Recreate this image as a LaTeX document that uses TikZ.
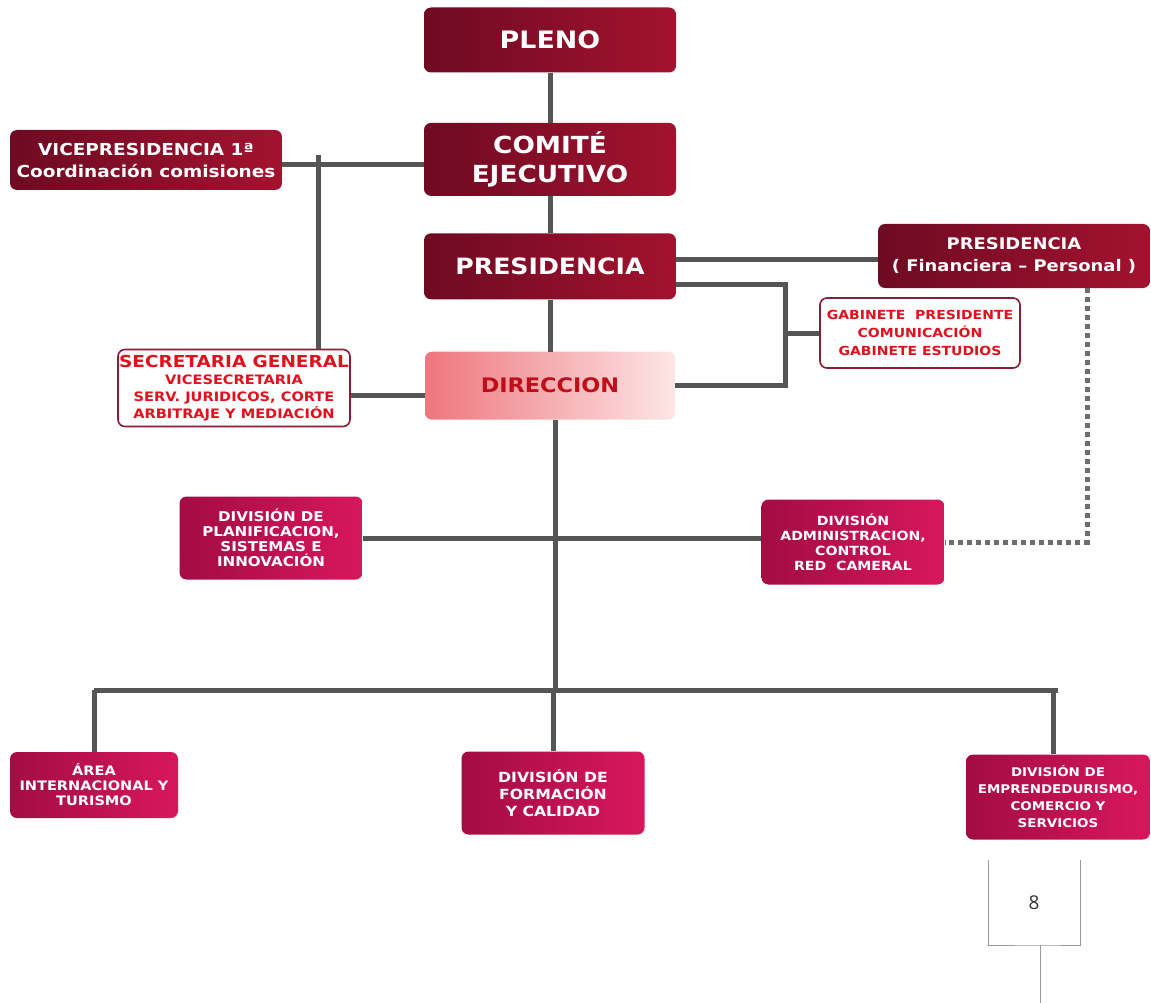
\documentclass[tikz,border=0pt]{standalone}
\usepackage{fontspec}
\setmainfont{DejaVu Sans}[FakeStretch=1.12]
\newfontfamily\pagefont{Open Sans}
\usetikzlibrary{positioning,calc}
\definecolor{dkA}{HTML}{6E0A22}
\definecolor{dkB}{HTML}{A3122F}
\definecolor{mgA}{HTML}{A30C43}
\definecolor{mgB}{HTML}{D8175C}
\definecolor{dirA}{HTML}{EF767E}
\definecolor{dirB}{HTML}{FDE6E6}
\definecolor{secline}{HTML}{8A1C33}
\definecolor{sectext}{HTML}{E0101C}
\definecolor{linegray}{HTML}{555555}
\tikzstyle{darkbox}=[rounded corners=7pt, left color=dkA, right color=dkB, text=white, align=center, inner sep=0pt]
\tikzstyle{magbox}=[rounded corners=7pt, left color=mgA, right color=mgB, text=white, align=center, inner sep=0pt, font=\fontsize{13}{15}\selectfont\bfseries]
\tikzstyle{redbox}=[rounded corners=7pt, draw=secline, line width=1.6pt, fill=white, text=sectext, align=center, inner sep=0pt]
\tikzstyle{link}=[line width=5pt, draw=linegray]
\tikzstyle{dotlink}=[line width=5pt, draw=linegray!85, dash pattern=on 5pt off 4pt]
\tikzstyle{pageline}=[line width=1pt, draw=gray!80]

\begin{document}
\begin{tikzpicture}[x=1pt,y=-1pt]
\useasboundingbox (0,0) rectangle (1151,1003);
% top column
\node (pleno) [darkbox, minimum width=252pt, minimum height=65pt, font=\fontsize{24}{28}\selectfont\bfseries] at (550,40) {PLENO};
\node (comite) [below=50pt of pleno, darkbox, minimum width=252pt, minimum height=73pt, font=\fontsize{23.5}{29}\selectfont\bfseries] {COMITÉ\\EJECUTIVO};
\node (pres) [below=37pt of comite, darkbox, minimum width=252pt, minimum height=66pt, font=\fontsize{22.5}{29}\selectfont\bfseries] {PRESIDENCIA};
\node (dir) [below=52pt of pres, rounded corners=7pt, left color=dirA, right color=dirB, text=sectext!85!black, minimum width=250pt, minimum height=68pt, font=\fontsize{20}{26}\selectfont\bfseries] {DIRECCION};
% side boxes
\node (vice) [darkbox, minimum width=272pt, minimum height=60pt, font=\fontsize{16.5}{22}\selectfont\bfseries] at (146,160) {VICEPRESIDENCIA 1ª\\Coordinación comisiones};
\node (presfin) [darkbox, minimum width=272pt, minimum height=64pt, font=\fontsize{16}{22}\selectfont\bfseries] at (1014,256) {PRESIDENCIA\\( Financiera – Personal )};
\node (gab) [redbox, minimum width=200pt, minimum height=70pt, font=\fontsize{12.5}{18}\selectfont\bfseries] at (920,333) {GABINETE\ \ PRESIDENTE\\COMUNICACIÓN\\GABINETE ESTUDIOS};
\node (sec) [redbox, minimum width=232pt, minimum height=77pt, font=\fontsize{13}{17}\selectfont\bfseries] at (234,388) {{\fontsize{16.5}{17}\selectfont SECRETARIA GENERAL}\\VICESECRETARIA\\SERV. JURIDICOS, CORTE\\ARBITRAJE Y MEDIACIÓN};
% divisions
\node (plan) [magbox, minimum width=183pt, minimum height=83pt, font=\fontsize{13.5}{15}\selectfont\bfseries] at (271,538) {DIVISIÓN DE\\PLANIFICACION,\\SISTEMAS E\\INNOVACIÓN};
\node (adm) [magbox, minimum width=183pt, minimum height=85pt, font=\fontsize{12.6}{15}\selectfont\bfseries] at (853,542) {DIVISIÓN\\ADMINISTRACION,\\CONTROL\\RED\ \ CAMERAL};
\node (area) [magbox, minimum width=168pt, minimum height=66pt] at (94,785) {ÁREA\\INTERNACIONAL Y\\TURISMO};
\node (form) [magbox, minimum width=183pt, minimum height=83pt, font=\fontsize{14}{17}\selectfont\bfseries] at (553,793) {DIVISIÓN DE\\FORMACIÓN\\Y CALIDAD};
\node (emp) [magbox, minimum width=184pt, minimum height=85pt, font=\fontsize{12}{17}\selectfont\bfseries] at (1058,797) {DIVISIÓN DE\\EMPRENDEDURISMO,\\COMERCIO Y\\SERVICIOS};
\coordinate (vs) at (318,155);
\coordinate (gk) at (785,333);
\coordinate (bus) at (555,690);
% connectors
\draw[link] (pleno) -- (comite);
\draw[link] (comite) -- (pres);
\draw[link] (pres) -- (dir);
\draw[link] ([yshift=-5pt]vice.east) -- ([yshift=-5pt]vice.east -| comite.west);
\draw[link] (vs) -- (vs |- sec.north);
\draw[link] ([yshift=7pt]pres.east) -- ([yshift=7pt]pres.east -| presfin.west);
\draw[link] ([yshift=-18pt]pres.east) -| (gk) |- (dir.east);
\draw[link] (gk) -- (gab.west);
\draw[link] ([yshift=-7pt]sec.east) -- ([yshift=-7pt]sec.east -| dir.west);
\draw[link] (dir.south -| bus) -- (bus);
\draw[link] (plan.east) -- (plan.east -| adm.west);
\draw[link] (area.north |- bus) -- (emp.north |- bus);
\draw[link] (area.north |- bus) -- (area.north);
\draw[link] (form.north |- bus) -- (form.north);
\draw[link] ([xshift=-5pt]emp.north |- bus) -- ([xshift=-5pt]emp.north);
\draw[dotlink] ([xshift=73pt]presfin.south) |- (adm.east);
% page number frame
\node (pg) [font=\pagefont\fontsize{19}{22}\selectfont, text=black!80] at (1034,903) {8};
\coordinate (pl) at (988,860);
\coordinate (pr) at (1080,860);
\coordinate (pb) at (1040,945);
\draw[pageline] (pl) |- (pb) -| (pr);
\draw[pageline] (pb) -- (1040,1003);
\end{tikzpicture}
\end{document}
